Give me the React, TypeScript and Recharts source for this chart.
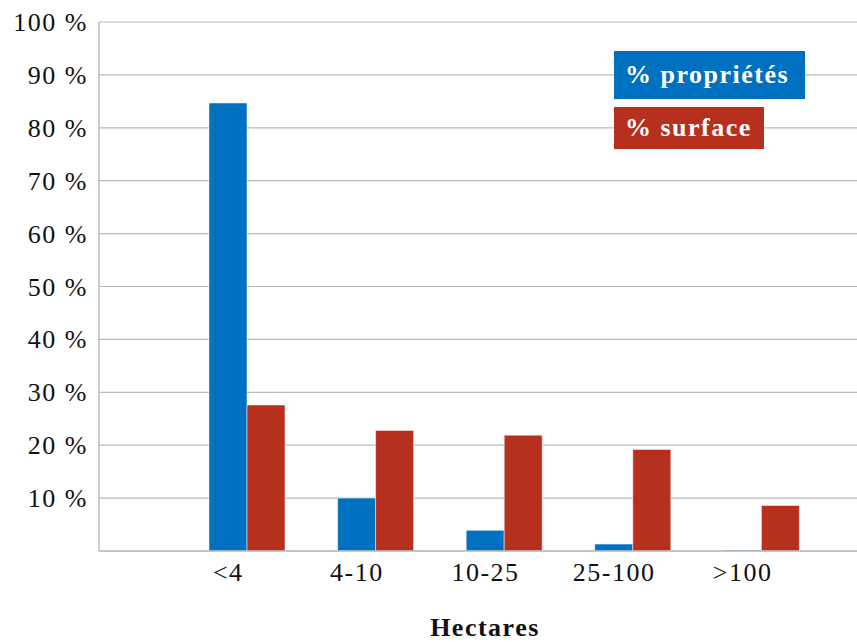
import { BarChart, Bar, XAxis, YAxis, CartesianGrid } from 'recharts';

const categories = ['<4', '4-10', '10-25', '25-100', '>100'];
const proprietes = [84.7, 10.0, 3.9, 1.3, 0.2];
const surface = [27.6, 22.8, 21.9, 19.2, 8.6];
const yTicks = [10, 20, 30, 40, 50, 60, 70, 80, 90, 100];

const data = categories.map((c, i) => ({ cat: c, proprietes: proprietes[i], surface: surface[i] }));

const BLUE = '#0070c0';
const RED = '#b7301e';
const FONT = '"Liberation Serif", serif';

const XTick = ({ x, y, payload }: any) => (
  <text x={x - 19} y={y + 22} textAnchor="middle" fontFamily={FONT} fontSize={26} letterSpacing={1.5} fill="#111">
    {payload.value}
  </text>
);

const YTick = ({ x, y, payload }: any) => (
  <text x={x - 3} y={y + 9} textAnchor="end" fontFamily={FONT} fontSize={26} letterSpacing={1.5} fill="#111">
    {payload.value} %
  </text>
);

// legend boxes drawn as HTML on top of the chart
const LegendBoxes = () => (
  <div style={{ position: 'absolute', left: 614, top: 51, fontFamily: FONT, fontWeight: 'bold', fontSize: 26, letterSpacing: 1.5, color: '#fff' }}>
    <div style={{ background: BLUE, width: 191, height: 48, lineHeight: '48px', paddingLeft: 11, boxSizing: 'border-box', whiteSpace: 'nowrap' }}>
      % propriétés
    </div>
    <div style={{ background: RED, width: 150, height: 42, lineHeight: '42px', paddingLeft: 11, marginTop: 8, boxSizing: 'border-box', whiteSpace: 'nowrap' }}>
      % surface
    </div>
  </div>
);

export default function App() {
  return (
    <div style={{ position: 'absolute', left: 0, top: 0, width: 857, height: 642, background: '#fff' }}>
      <BarChart width={857} height={642} data={data} margin={{ top: 22, right: 0, left: 0, bottom: 41 }} barGap={0} barSize={38}>
        <CartesianGrid vertical={false} stroke="#bbbbbb" strokeWidth={1.2} />
        <XAxis
          dataKey="cat"
          height={50}
          padding={{ left: 84, right: 31 }}
          tickLine={false}
          axisLine={{ stroke: '#bbbbbb', strokeWidth: 1.5 }}
          tick={<XTick />}
          interval={0}
        />
        <YAxis
          width={99}
          domain={[0, 100]}
          ticks={yTicks}
          tickLine={false}
          axisLine={{ stroke: '#bbbbbb', strokeWidth: 1.5 }}
          tick={<YTick />}
        />
        <Bar dataKey="proprietes" name="% propriétés" fill={BLUE} stroke="#ffffff" strokeOpacity={0.5} isAnimationActive={false} />
        <Bar dataKey="surface" name="% surface" fill={RED} stroke="#ffffff" strokeOpacity={0.5} isAnimationActive={false} />
        <text x={485} y={636} textAnchor="middle" fontFamily={FONT} fontWeight="bold" fontSize={26} letterSpacing={1.5} fill="#111">
          Hectares
        </text>
      </BarChart>
      <LegendBoxes />
    </div>
  );
}
